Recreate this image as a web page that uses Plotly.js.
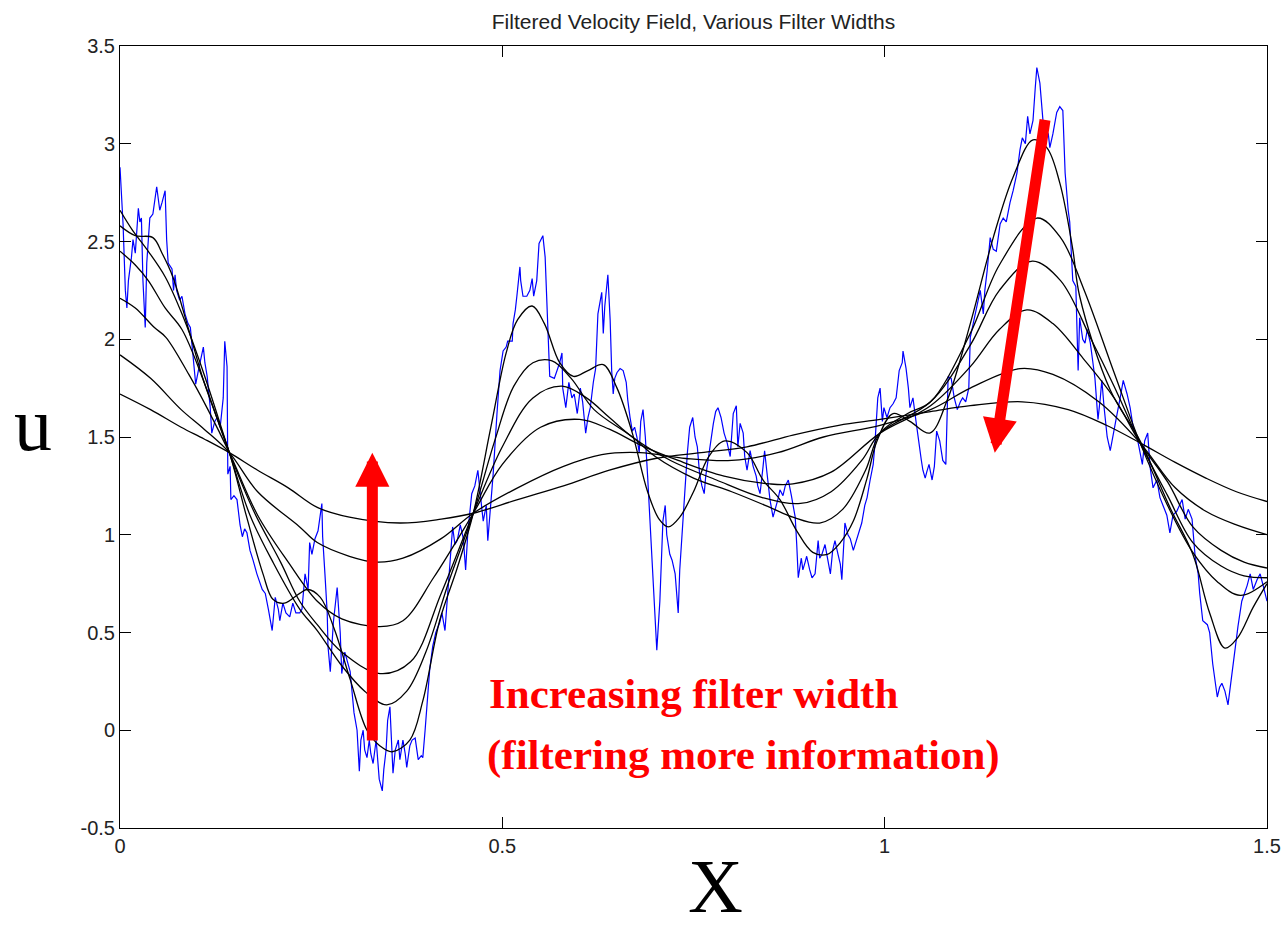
<!DOCTYPE html>
<html>
<head>
<meta charset="utf-8">
<script src="https://cdn.plot.ly/plotly-3.0.1.min.js"></script>
<style>
  html, body { margin: 0; padding: 0; background: #ffffff; }
  #chart { width: 1283px; height: 930px; }
</style>
</head>
<body>
<div id="chart"></div>
<script>
// ---------- Data ----------
const titleText = "Filtered Velocity Field, Various Filter Widths";
const xLabel = "X";
const yLabel = "u";
const noteLines = ["Increasing filter width", "(filtering more information)"];

const xTickVals = [0, 0.5, 1, 1.5];
const xTickText = ["0", "0.5", "1", "1.5"];
const yTickVals = [-0.5, 0, 0.5, 1, 1.5, 2, 2.5, 3, 3.5];
const yTickText = ["-0.5", "0", "0.5", "1", "1.5", "2", "2.5", "3", "3.5"];

// Unfiltered (noisy) velocity field
const rawX = [
  0.000,0.001,0.004,0.007,0.009,0.011,0.015,0.017,0.020,0.024,
  0.026,0.028,0.030,0.033,0.035,0.039,0.043,0.048,0.052,0.055,
  0.059,0.061,0.063,0.068,0.070,0.072,0.074,0.078,0.081,0.085,
  0.089,0.092,0.095,0.099,0.103,0.109,0.111,0.114,0.118,0.120,
  0.124,0.127,0.131,0.135,0.137,0.140,0.141,0.144,0.145,0.149,
  0.153,0.157,0.160,0.163,0.166,0.170,0.174,0.179,0.186,0.190,
  0.194,0.199,0.203,0.207,0.209,0.213,0.217,0.222,0.226,0.230,
  0.235,0.238,0.242,0.246,0.248,0.251,0.255,0.259,0.264,0.265,
  0.268,0.271,0.272,0.275,0.279,0.284,0.288,0.290,0.294,0.297,
  0.301,0.306,0.310,0.313,0.315,0.318,0.320,0.323,0.326,0.328,
  0.331,0.335,0.339,0.343,0.345,0.348,0.350,0.353,0.357,0.360,
  0.364,0.366,0.370,0.373,0.375,0.379,0.382,0.386,0.390,0.394,
  0.396,0.399,0.401,0.405,0.409,0.413,0.418,0.421,0.425,0.428,
  0.432,0.435,0.438,0.441,0.445,0.449,0.452,0.455,0.460,0.464,
  0.468,0.471,0.473,0.475,0.479,0.481,0.484,0.488,0.493,0.497,
  0.501,0.505,0.507,0.513,0.514,0.517,0.519,0.523,0.524,0.527,
  0.532,0.536,0.539,0.541,0.545,0.548,0.553,0.556,0.560,0.562,
  0.568,0.571,0.575,0.578,0.579,0.583,0.587,0.591,0.594,0.598,
  0.602,0.605,0.609,0.612,0.615,0.619,0.622,0.625,0.628,0.630,
  0.632,0.634,0.638,0.641,0.643,0.645,0.647,0.650,0.654,0.658,
  0.662,0.664,0.667,0.670,0.673,0.676,0.679,0.681,0.684,0.687,
  0.690,0.693,0.697,0.700,0.702,0.706,0.710,0.713,0.715,0.719,
  0.722,0.726,0.730,0.732,0.735,0.738,0.742,0.745,0.749,0.752,
  0.755,0.758,0.761,0.764,0.766,0.769,0.773,0.776,0.779,0.782,
  0.786,0.790,0.794,0.798,0.802,0.806,0.808,0.811,0.815,0.817,
  0.820,0.824,0.828,0.832,0.834,0.837,0.841,0.843,0.846,0.850,
  0.854,0.858,0.861,0.863,0.867,0.870,0.874,0.878,0.880,0.883,
  0.885,0.887,0.891,0.893,0.896,0.898,0.902,0.905,0.909,0.913,
  0.915,0.918,0.922,0.925,0.929,0.932,0.935,0.939,0.942,0.944,
  0.948,0.952,0.955,0.959,0.964,0.968,0.970,0.974,0.977,0.981,
  0.985,0.987,0.991,0.994,0.997,0.999,1.003,1.007,1.011,1.015,
  1.019,1.023,1.024,1.028,1.031,1.033,1.037,1.041,1.045,1.048,
  1.050,1.053,1.055,1.058,1.062,1.065,1.068,1.072,1.076,1.080,
  1.083,1.087,1.091,1.095,1.099,1.102,1.106,1.110,1.112,1.116,
  1.118,1.121,1.125,1.129,1.131,1.134,1.138,1.142,1.146,1.151,
  1.155,1.159,1.164,1.168,1.173,1.177,1.180,1.184,1.187,1.190,
  1.194,1.197,1.199,1.203,1.207,1.210,1.214,1.216,1.220,1.225,
  1.229,1.233,1.236,1.240,1.242,1.246,1.250,1.253,1.255,1.259,
  1.262,1.265,1.269,1.272,1.275,1.278,1.279,1.282,1.284,1.287,
  1.291,1.295,1.299,1.304,1.308,1.312,1.317,1.321,1.325,1.330,
  1.334,1.337,1.340,1.344,1.347,1.351,1.356,1.360,1.364,1.369,
  1.373,1.377,1.382,1.389,1.393,1.397,1.402,1.406,1.410,1.412,
  1.416,1.422,1.425,1.429,1.435,1.438,1.441,1.445,1.449,1.454,
  1.458,1.462,1.467,1.471,1.474,1.478,1.482,1.487,1.491,1.495,
  1.500
];
const rawU = [
  2.88,2.80,2.59,2.25,2.16,2.30,2.42,2.51,2.44,2.67,
  2.60,2.62,2.30,2.06,2.39,2.62,2.64,2.78,2.66,2.70,
  2.76,2.51,2.39,2.36,2.25,2.33,2.25,2.20,2.22,2.13,
  2.08,2.06,1.94,1.77,1.85,1.96,1.88,1.81,1.65,1.52,
  1.58,1.60,1.55,1.70,1.99,1.86,1.31,1.35,1.18,1.20,
  1.18,1.05,0.99,1.03,1.01,0.92,0.87,0.80,0.72,0.70,
  0.62,0.51,0.68,0.62,0.56,0.65,0.60,0.58,0.65,0.60,
  0.60,0.62,0.80,0.72,0.96,0.90,0.98,1.02,1.16,0.99,
  0.80,0.60,0.43,0.30,0.55,0.73,0.50,0.29,0.40,0.36,
  0.30,0.09,0.00,-0.21,-0.05,0.00,-0.10,-0.14,-0.05,-0.12,
  -0.17,-0.05,-0.25,-0.31,-0.20,-0.10,0.05,0.12,-0.22,-0.10,
  -0.05,-0.15,-0.05,-0.12,-0.19,-0.08,-0.05,-0.04,-0.15,-0.13,
  -0.14,0.00,0.09,0.31,0.43,0.50,0.55,0.60,0.51,0.68,
  0.87,1.04,0.95,0.97,1.05,0.98,0.82,1.02,1.21,1.25,
  1.33,1.20,1.14,1.07,1.15,0.97,1.10,1.31,1.62,1.84,
  1.94,1.96,1.99,1.99,2.08,2.15,2.22,2.37,2.30,2.22,
  2.22,2.25,2.31,2.22,2.30,2.49,2.53,2.42,2.01,1.81,
  1.80,1.83,1.88,1.93,1.75,1.65,1.78,1.70,1.72,1.62,
  1.75,1.68,1.52,1.60,1.65,1.78,1.85,2.13,2.20,2.24,
  2.03,2.17,2.33,2.10,1.84,1.72,1.80,1.83,1.85,1.84,
  1.78,1.69,1.60,1.53,1.55,1.50,1.42,1.58,1.64,1.50,
  1.30,1.07,0.73,0.55,0.41,0.66,1.07,1.15,1.00,0.90,
  0.87,0.80,0.60,0.82,1.01,1.15,1.42,1.55,1.60,1.50,
  1.45,1.31,1.25,1.21,1.30,1.38,1.50,1.57,1.63,1.65,
  1.60,1.52,1.47,1.40,1.62,1.66,1.45,1.57,1.52,1.40,
  1.33,1.43,1.35,1.30,1.25,1.21,1.35,1.43,1.32,1.18,
  1.09,1.14,1.19,1.23,1.20,1.25,1.28,1.20,1.15,1.09,
  0.95,0.78,0.88,0.82,0.86,0.89,0.82,0.78,0.80,0.97,
  0.88,0.90,0.95,0.88,0.80,0.92,0.97,0.90,0.85,0.77,
  1.06,1.00,0.98,0.92,0.98,1.03,1.06,1.15,1.19,1.28,
  1.36,1.45,1.70,1.75,1.58,1.65,1.60,1.65,1.67,1.70,
  1.84,1.88,1.94,1.85,1.75,1.65,1.70,1.58,1.45,1.38,
  1.33,1.29,1.32,1.36,1.28,1.35,1.53,1.48,1.38,1.36,
  1.81,1.80,1.70,1.64,1.68,1.70,1.68,1.75,2.01,2.08,
  2.12,2.18,2.25,2.13,2.25,2.35,2.52,2.46,2.45,2.59,
  2.62,2.60,2.70,2.76,2.85,2.97,3.03,3.00,3.14,3.05,
  3.12,3.29,3.39,3.31,3.12,3.08,3.05,2.98,3.05,3.16,
  3.19,3.17,2.85,2.66,2.60,2.30,2.27,1.84,2.11,2.00,
  1.98,2.05,1.98,1.89,1.80,1.64,1.59,1.70,1.79,1.65,
  1.50,1.43,1.52,1.62,1.70,1.79,1.72,1.65,1.55,1.50,
  1.42,1.36,1.48,1.52,1.35,1.24,1.28,1.19,1.15,1.10,
  1.01,1.10,1.12,1.18,1.08,1.13,1.08,0.89,0.80,0.70,
  0.56,0.54,0.50,0.34,0.17,0.22,0.24,0.20,0.13,0.29,
  0.43,0.53,0.66,0.70,0.74,0.80,0.72,0.77,0.80,0.74,
  0.66
];

// Filtered fields, narrowest (w1) to widest (w6) filter
const w1X = [0.000,0.020,0.043,0.055,0.069,0.089,0.110,0.143,0.165,0.187,
             0.200,0.215,0.235,0.245,0.262,0.280,0.301,0.323,0.340,0.356,
             0.379,0.396,0.418,0.441,0.462,0.485,0.505,0.520,0.539,0.555,
             0.575,0.593,0.612,0.632,0.650,0.670,0.690,0.705,0.717,0.732,
             0.750,0.770,0.791,0.820,0.841,0.863,0.885,0.906,0.925,0.942,
             0.959,0.977,0.990,1.011,1.033,1.059,1.082,1.112,1.142,1.168,
             1.194,1.212,1.229,1.246,1.255,1.295,1.334,1.373,1.403,1.425,
             1.445,1.461,1.482,1.500];
const w1U = [2.58,2.53,2.52,2.44,2.32,2.06,1.78,1.42,1.10,0.80,
             0.67,0.65,0.70,0.72,0.68,0.52,0.26,0.00,-0.08,-0.11,
             -0.05,0.15,0.56,0.83,1.11,1.55,1.93,2.10,2.17,2.08,
             1.88,1.81,1.84,1.87,1.75,1.52,1.22,1.08,1.04,1.09,
             1.22,1.40,1.48,1.42,1.28,1.18,1.02,0.91,0.90,0.96,
             1.07,1.29,1.48,1.62,1.58,1.52,1.69,2.08,2.52,2.83,
             3.02,2.98,2.80,2.46,2.22,1.74,1.48,1.14,0.90,0.60,
             0.42,0.47,0.63,0.75];

const w2X = [0.000,0.016,0.037,0.059,0.081,0.110,0.143,0.170,0.200,0.235,
             0.258,0.290,0.320,0.349,0.375,0.400,0.430,0.462,0.490,0.515,
             0.540,0.565,0.590,0.620,0.670,0.700,0.750,0.800,0.850,0.880,
             0.915,0.945,0.975,0.994,1.030,1.060,1.112,1.150,1.199,1.230,
             1.260,1.300,1.334,1.370,1.403,1.435,1.465,1.500];
const w2U = [2.66,2.56,2.45,2.32,2.13,1.82,1.42,1.10,0.86,0.62,
             0.51,0.33,0.20,0.13,0.20,0.40,0.76,1.11,1.48,1.76,
             1.88,1.89,1.80,1.64,1.50,1.40,1.29,1.22,1.14,1.09,
             1.06,1.13,1.33,1.52,1.62,1.68,2.03,2.38,2.62,2.52,
             2.26,1.83,1.47,1.15,0.91,0.76,0.69,0.76];

const w3X = [0.000,0.020,0.037,0.059,0.081,0.110,0.143,0.175,0.210,0.235,
             0.258,0.290,0.340,0.380,0.420,0.462,0.500,0.540,0.578,0.610,
             0.640,0.670,0.720,0.780,0.840,0.890,0.930,0.970,0.994,1.060,
             1.112,1.150,1.193,1.230,1.270,1.300,1.334,1.370,1.403,1.440,
             1.470,1.500];
const w3U = [2.45,2.38,2.30,2.16,2.05,1.78,1.42,1.12,0.86,0.66,
             0.54,0.40,0.29,0.35,0.70,1.11,1.45,1.70,1.76,1.70,
             1.60,1.50,1.38,1.28,1.19,1.16,1.22,1.38,1.52,1.68,
             1.97,2.25,2.40,2.30,2.00,1.76,1.47,1.20,0.96,0.84,
             0.79,0.78];

const w4X = [0.000,0.020,0.045,0.060,0.090,0.115,0.143,0.180,0.220,0.258,
             0.290,0.340,0.370,0.410,0.462,0.500,0.550,0.601,0.640,0.680,
             0.730,0.790,0.850,0.880,0.930,0.994,1.060,1.112,1.150,1.186,
             1.220,1.260,1.300,1.334,1.370,1.403,1.440,1.470,1.500];
const w4U = [2.21,2.16,2.06,2.01,1.82,1.64,1.42,1.10,0.86,0.66,
             0.57,0.53,0.56,0.78,1.11,1.36,1.55,1.59,1.54,1.46,
             1.38,1.30,1.26,1.26,1.32,1.52,1.66,1.86,2.05,2.15,
             2.08,1.90,1.70,1.47,1.27,1.04,0.92,0.86,0.83];

const w5X = [0.000,0.040,0.080,0.110,0.143,0.180,0.235,0.258,0.300,0.335,
             0.370,0.420,0.462,0.520,0.580,0.630,0.680,0.740,0.800,0.860,
             0.920,0.994,1.060,1.112,1.177,1.220,1.280,1.334,1.380,1.420,
             1.460,1.500];
const w5U = [1.92,1.80,1.64,1.54,1.42,1.22,1.04,0.96,0.89,0.86,
             0.88,0.98,1.11,1.24,1.35,1.41,1.42,1.39,1.38,1.42,
             1.50,1.56,1.64,1.75,1.85,1.82,1.68,1.47,1.24,1.12,
             1.05,1.00];

const w6X = [0.000,0.040,0.080,0.110,0.143,0.180,0.220,0.258,0.300,0.366,
             0.420,0.462,0.520,0.580,0.640,0.700,0.760,0.820,0.880,0.940,
             0.994,1.060,1.112,1.180,1.240,1.290,1.334,1.380,1.420,1.460,
             1.500];
const w6U = [1.72,1.64,1.55,1.49,1.42,1.33,1.24,1.14,1.09,1.06,
             1.08,1.11,1.18,1.25,1.33,1.39,1.42,1.45,1.51,1.56,
             1.59,1.63,1.66,1.68,1.64,1.56,1.47,1.37,1.29,1.22,
             1.17];

// Arrow endpoints (data coordinates): tail -> head
const arrowUpTail = [0.330, -0.06];
const arrowUpHead = [0.330, 1.42];
const arrowDownTail = [1.210, 3.13];
const arrowDownHead = [1.144, 1.42];

// ---------- Build figure ----------
const filtered = [[w1X, w1U], [w2X, w2U], [w3X, w3U], [w4X, w4U], [w5X, w5U], [w6X, w6U]];

const traces = [{
  x: rawX, y: rawU, type: "scatter", mode: "lines",
  line: { color: "#0000ff", width: 1.2 },
  hoverinfo: "skip"
}];
filtered.forEach(function (s) {
  traces.push({
    x: s[0], y: s[1], type: "scatter", mode: "lines",
    line: { color: "#000000", width: 1.3, shape: "spline", smoothing: 1 },
    hoverinfo: "skip"
  });
});

const tickFont = { family: "Liberation Sans, Arial, sans-serif", size: 20, color: "#222222" };
const redFont = { family: "Liberation Serif, Times New Roman, serif", size: 43, color: "#ff0000", weight: "bold" };

function arrow(tail, head) {
  return {
    xref: "x", yref: "y", axref: "x", ayref: "y",
    x: head[0], y: head[1], ax: tail[0], ay: tail[1],
    text: "", showarrow: true,
    arrowhead: 2, arrowsize: 0.62, arrowwidth: 11, arrowcolor: "#ff0000"
  };
}

const layout = {
  width: 1283, height: 930,
  margin: { l: 120, r: 16, t: 46, b: 102, pad: 0 },
  paper_bgcolor: "#ffffff", plot_bgcolor: "#ffffff",
  showlegend: false,
  hovermode: false,
  title: {
    text: titleText,
    font: { family: "Liberation Sans, Arial, sans-serif", size: 21, color: "#222222" },
    x: 0.5, xref: "paper", xanchor: "center",
    y: 1 - 22 / 930, yref: "container", yanchor: "middle"
  },
  xaxis: {
    range: [0, 1.5], tickmode: "array", tickvals: xTickVals, ticktext: xTickText,
    ticks: "inside", ticklen: 11, tickwidth: 1, tickcolor: "#000000",
    showline: true, linecolor: "#000000", linewidth: 1, mirror: "ticks",
    showgrid: false, zeroline: false, tickfont: tickFont
  },
  yaxis: {
    range: [-0.5, 3.5], tickmode: "array", tickvals: yTickVals, ticktext: yTickText,
    ticks: "inside", ticklen: 11, tickwidth: 1, tickcolor: "#000000",
    showline: true, linecolor: "#000000", linewidth: 1, mirror: "ticks",
    showgrid: false, zeroline: false, tickfont: tickFont
  },
  annotations: [
    { xref: "paper", yref: "paper", x: -0.0759, y: 0.5166, xanchor: "center", yanchor: "middle",
      text: yLabel, showarrow: false,
      font: { family: "Liberation Serif, Times New Roman, serif", size: 76, color: "#000000" } },
    { xref: "paper", yref: "paper", x: 0.519, y: -0.0742, xanchor: "center", yanchor: "middle",
      text: xLabel, showarrow: false,
      font: { family: "Liberation Serif, Times New Roman, serif", size: 76, color: "#000000" } },
    { xref: "paper", yref: "paper", x: 0.3200, y: 0.1714, xanchor: "left", yanchor: "middle",
      text: noteLines[0], showarrow: false, font: redFont },
    { xref: "paper", yref: "paper", x: 0.3183, y: 0.0934, xanchor: "left", yanchor: "middle",
      text: noteLines[1], showarrow: false, font: redFont },
    arrow(arrowUpTail, arrowUpHead),
    arrow(arrowDownTail, arrowDownHead)
  ]
};

Plotly.newPlot("chart", traces, layout, { staticPlot: true, displayModeBar: false });
</script>
</body>
</html>
